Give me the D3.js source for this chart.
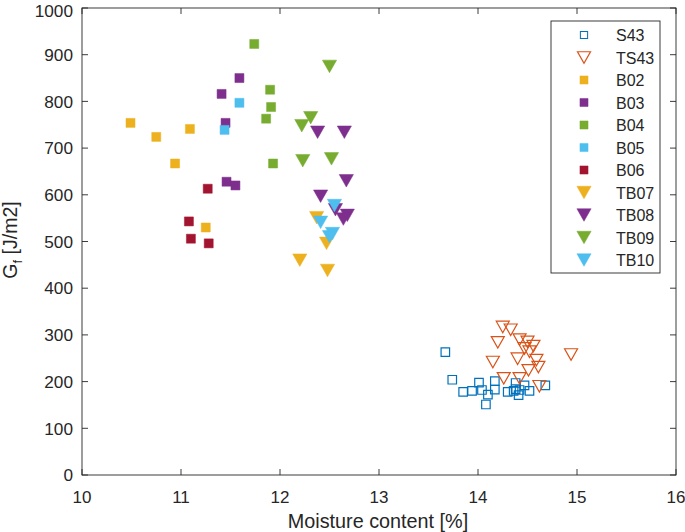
<!DOCTYPE html>
<html><head><meta charset="utf-8">
<script src="https://cdn.jsdelivr.net/npm/d3@7"></script>
<style>body{margin:0;background:#fff}svg{display:block}text{font-family:"Liberation Sans",Arial,sans-serif;fill:#262626}</style>
</head><body>
<script>
const seriesNames = ["S43","TS43","B02","B03","B04","B05","B06","TB07","TB08","TB09","TB10"];
const S43 = [[13.67,263],[13.74,204],[13.85,178],[13.94,180],[14.01,198],[14.04,182],[14.10,172],[14.08,151],[14.17,201],[14.17,183],[14.30,178],[14.38,197],[14.38,184],[14.41,171],[14.47,192],[14.42,182],[14.52,180],[14.68,192],[14.36,180]];
const TS43 = [[14.25,317],[14.33,311],[14.20,284],[14.42,290],[14.50,285],[14.56,276],[14.47,271],[14.52,264],[14.94,258],[14.15,242],[14.40,249],[14.59,246],[14.61,231],[14.51,224],[14.26,207],[14.42,207],[14.62,190]];
const B02 = [[10.49,754],[10.75,724],[11.09,741],[10.94,667],[11.25,530]];
const B03 = [[11.59,850],[11.41,816],[11.45,754],[11.46,628],[11.55,620]];
const B04 = [[11.74,923],[11.90,825],[11.91,788],[11.86,763],[11.93,667]];
const B05 = [[11.59,797],[11.44,739]];
const B06 = [[11.27,613],[11.08,543],[11.10,506],[11.28,496]];
const TB07 = [[12.20,460],[12.48,438],[12.37,551],[12.47,496]];
const TB08 = [[12.38,734],[12.65,734],[12.67,630],[12.41,597],[12.56,568],[12.68,556],[12.64,548]];
const TB09 = [[12.50,875],[12.31,765],[12.22,748],[12.23,673],[12.52,677]];
const TB10 = [[12.55,577],[12.41,541],[12.53,517],[12.50,510]];
const xTicks = [10,11,12,13,14,15,16];
const yTicks = [0,100,200,300,400,500,600,700,800,900,1000];

const seriesData = [S43,TS43,B02,B03,B04,B05,B06,TB07,TB08,TB09,TB10];
const styles = [
  {shape:"sq", open:true, color:"#0072BD"},
  {shape:"tri", open:true, color:"#D95319"},
  {shape:"sq", open:false, color:"#EDB120"},
  {shape:"sq", open:false, color:"#7E2F8E"},
  {shape:"sq", open:false, color:"#77AC30"},
  {shape:"sq", open:false, color:"#4DBEEE"},
  {shape:"sq", open:false, color:"#A2142F"},
  {shape:"tri", open:false, color:"#EDB120"},
  {shape:"tri", open:false, color:"#7E2F8E"},
  {shape:"tri", open:false, color:"#77AC30"},
  {shape:"tri", open:false, color:"#4DBEEE"}
];

const W=685,H=532;
const L=82,R=676,T=8,B=475;
const svg=d3.select("body").append("svg").attr("width",W).attr("height",H);
const x=d3.scaleLinear().domain([10,16]).range([L,R]);
const y=d3.scaleLinear().domain([0,1000]).range([B,T]);
const axc="#262626";

function markerPath(st){
  if(st.shape==="sq"){ const s=st.open?8.5:9; return `M${-s/2},${-s/2}h${s}v${s}h${-s}Z`; }
  const w=st.open?13:14.2, h=st.open?11.5:12.5;
  return `M${-w/2},${-h/2}L${w/2},${-h/2}L0,${h/2}Z`;
}

const g=svg.append("g");
g.append("rect").attr("x",L).attr("y",T).attr("width",R-L).attr("height",B-T).attr("fill","none").attr("stroke",axc).attr("stroke-width",0.9);
const tl=6;
xTicks.forEach(t=>{
  g.append("line").attr("x1",x(t)).attr("x2",x(t)).attr("y1",B).attr("y2",B-tl).attr("stroke",axc).attr("stroke-width",0.9);
  g.append("line").attr("x1",x(t)).attr("x2",x(t)).attr("y1",T).attr("y2",T+tl).attr("stroke",axc).attr("stroke-width",0.9);
  g.append("text").attr("x",x(t)).attr("y",B+28).attr("text-anchor","middle").attr("font-size",17).text(t);
});
yTicks.forEach(t=>{
  g.append("line").attr("x1",L).attr("x2",L+tl).attr("y1",y(t)).attr("y2",y(t)).attr("stroke",axc).attr("stroke-width",0.9);
  g.append("line").attr("x1",R).attr("x2",R-tl).attr("y1",y(t)).attr("y2",y(t)).attr("stroke",axc).attr("stroke-width",0.9);
  g.append("text").attr("x",L-9).attr("y",Math.max(y(t)+6.2,16.5)).attr("text-anchor","end").attr("font-size",17.2).text(t);
});
svg.append("text").attr("x",378).attr("y",528).attr("text-anchor","middle").attr("font-size",19.8).text("Moisture content [%]");
const yl=svg.append("text").attr("transform",`translate(17,${240}) rotate(-90)`).attr("text-anchor","middle").attr("font-size",19.5);
yl.append("tspan").text("G");
yl.append("tspan").attr("font-size",13).attr("dy",5).text("f");
yl.append("tspan").attr("dy",-5).text(" [J/m2]");

seriesData.forEach((d,i)=>{
  const st=styles[i];
  svg.append("g").selectAll("path").data(d).join("path")
    .attr("transform",p=>`translate(${x(p[0])},${y(p[1])})`)
    .attr("d",markerPath(st))
    .attr("fill",st.open?"none":st.color)
    .attr("stroke",st.color)
    .attr("stroke-width",st.open?1.2:0.5);
});

const lg=svg.append("g");
lg.append("rect").attr("x",551).attr("y",21).attr("width",109).attr("height",252).attr("fill","#fff").attr("stroke",axc).attr("stroke-width",0.9);
seriesNames.forEach((n,i)=>{
  const st=styles[i];
  const yy=35+i*22.5;
  const sc = st.shape==="sq"? (st.open?0.85:0.9) : 1;
  lg.append("path").attr("transform",`translate(584,${yy}) scale(${sc})`).attr("d",markerPath(st))
    .attr("fill",st.open?"none":st.color).attr("stroke",st.color).attr("stroke-width",st.open?1.2:0.5);
  lg.append("text").attr("x",616).attr("y",yy+6).attr("font-size",16).text(n);
});
</script>
</body></html>
